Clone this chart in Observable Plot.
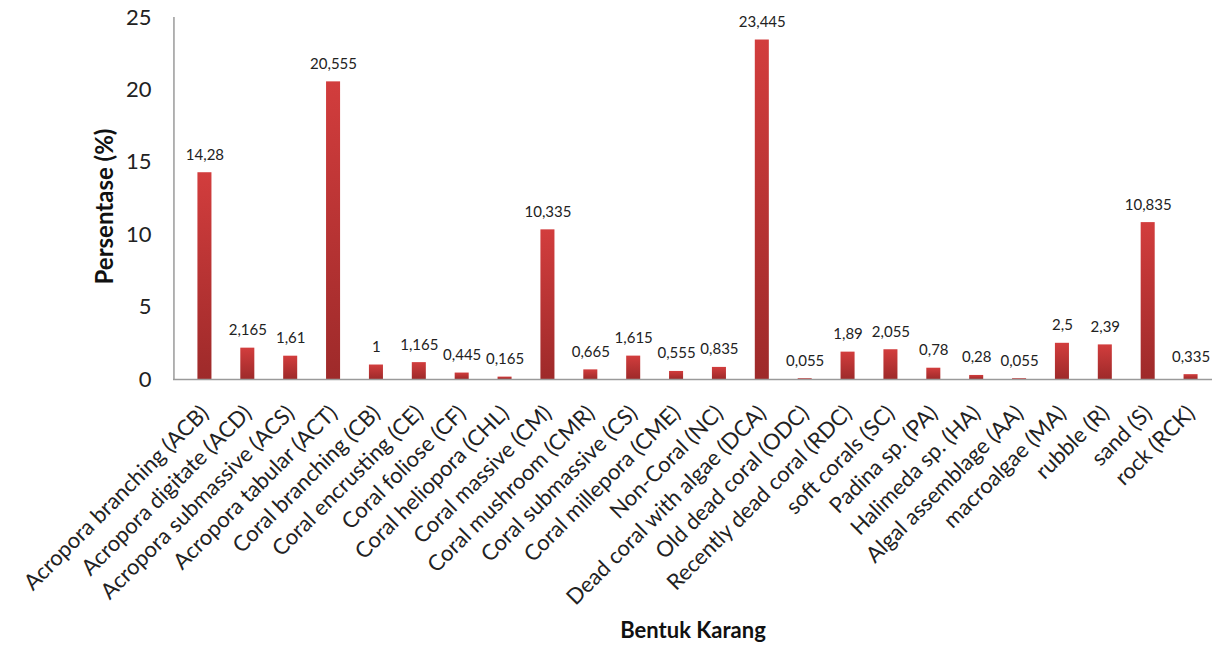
<!DOCTYPE html>
<html><head><meta charset="utf-8">
<script src="https://cdn.jsdelivr.net/npm/d3@7"></script>
<script src="https://cdn.jsdelivr.net/npm/@observablehq/plot@0.6"></script>
<style>body{margin:0;background:#fff;}</style>
</head><body><div id="chart"></div>
<script>
const categories = [
  "Acropora branching (ACB)", "Acropora digitate (ACD)", "Acropora submassive (ACS)",
  "Acropora tabular (ACT)", "Coral branching (CB)", "Coral encrusting (CE)",
  "Coral foliose (CF)", "Coral heliopora (CHL)", "Coral massive (CM)",
  "Coral mushroom (CMR)", "Coral submassive (CS)", "Coral millepora (CME)",
  "Non-Coral (NC)", "Dead coral with algae (DCA)", "Old dead coral (ODC)",
  "Recently dead coral (RDC)", "soft corals (SC)", "Padina sp. (PA)",
  "Halimeda sp. (HA)", "Algal assemblage (AA)", "macroalgae (MA)",
  "rubble (R)", "sand (S)", "rock (RCK)"
];
const values = [
  14.28, 2.165, 1.61, 20.555, 1, 1.165, 0.445, 0.165, 10.335, 0.665, 1.615, 0.555,
  0.835, 23.445, 0.055, 1.89, 2.055, 0.78, 0.28, 0.055, 2.5, 2.39, 10.835, 0.335
];
const yTicks = [0, 5, 10, 15, 20, 25];
const yTitle = "Persentase (%)";
const xTitle = "Bentuk Karang";

const data = categories.map((c, i) => ({category: c, value: values[i]}));
const fmt = v => String(v).replace(".", ",");
const font = "Lato, 'Open Sans', sans-serif";

const chart = Plot.plot({
  width: 1214, height: 656,
  marginLeft: 173, marginRight: 2, marginTop: 17, marginBottom: 277,
  style: {fontFamily: font, background: "#fff", color: "#222"},
  x: {domain: categories, paddingInner: 0.673, paddingOuter: 0.3365, insetLeft: 10, round: false, label: null},
  y: {domain: [0, 25], ticks: yTicks, label: null},
  marks: [
    Plot.barY(data, {x: "category", y: "value", fill: "url(#barGrad)", style: {filter: "drop-shadow(1px 1px 1px rgba(0,0,0,0.22))"}}),
    Plot.text(data, {x: "category", y: "value", text: d => fmt(d.value), lineAnchor: "bottom", dy: -13, fontSize: 15, fill: "#222"}),
    Plot.axisY({ticks: yTicks, tickSize: 0, tickPadding: 22, fontSize: 22, label: null}),
    Plot.axisX({tickRotate: -45, tickSize: 0, tickPadding: 30, fontSize: 22, label: null}),
    Plot.ruleY([0], {stroke: "#9a9a9a", strokeWidth: 1.5}),
    Plot.ruleX([categories[0]], {y1: 0, y2: 25, stroke: "#9a9a9a", strokeWidth: 1.5, dx: -31}),
    Plot.text([yTitle], {frameAnchor: "left", textAnchor: "middle", rotate: -90, dx: -68, dy: 8, fontWeight: 700, fontSize: 24, fill: "#111"}),
    Plot.text([xTitle], {frameAnchor: "bottom", dy: 258, fontWeight: 700, fontSize: 22, fill: "#111"})
  ]
});

const svg = d3.select(chart);
const defs = svg.insert("defs", ":first-child");
const g = defs.append("linearGradient").attr("id", "barGrad")
  .attr("x1", 0).attr("y1", 0).attr("x2", 0).attr("y2", 1);
g.append("stop").attr("offset", "0%").attr("stop-color", "#d23d3d");
g.append("stop").attr("offset", "100%").attr("stop-color", "#9e2a2a");
document.getElementById("chart").appendChild(chart);
</script>
</body></html>
